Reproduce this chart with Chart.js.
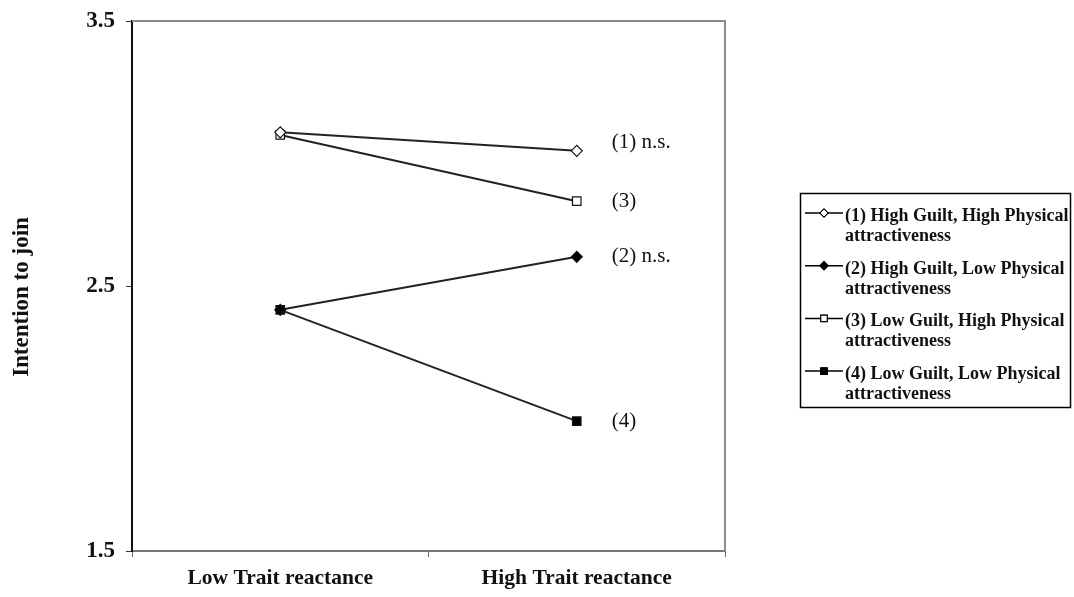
<!DOCTYPE html>
<html lang="en">
<head>
<meta charset="UTF-8">
<title>Intention to join</title>
<script src="https://cdn.jsdelivr.net/npm/chart.js"></script>
<style>
  html, body { margin: 0; padding: 0; background: #fff; }
  #wrap { position: relative; width: 1074px; height: 597px; }
</style>
</head>
<body>
<div id="wrap"><canvas id="chart" width="1074" height="597"></canvas></div>
<script>
// categories and tick labels
const categories = ['Low Trait reactance', 'High Trait reactance'];
const yTicks = [1.5, 2.5, 3.5];
const yTitle = 'Intention to join';

// series values
const highGuiltHighAttr = [3.08, 3.01];
const highGuiltLowAttr = [2.41, 2.61];
const lowGuiltHighAttr = [3.07, 2.82];
const lowGuiltLowAttr = [2.41, 1.99];

const seriesNames = [
  ['(1) High Guilt, High Physical', 'attractiveness'],
  ['(2) High Guilt, Low Physical', 'attractiveness'],
  ['(3) Low Guilt, High Physical', 'attractiveness'],
  ['(4) Low Guilt, Low Physical', 'attractiveness']
];
const endLabels = ['(1) n.s.', '(2) n.s.', '(3)', '(4)'];

const serif = '"Liberation Serif", "Times New Roman", serif';
const lineColor = '#222';

function makeSet(data, i, style, filled) {
  return {
    label: seriesNames[i].join(' '),
    data: data,
    borderColor: lineColor,
    borderWidth: 2,
    pointStyle: style,
    pointRadius: style === 'rect' ? 6 : 5.5,
    pointBorderWidth: 1.2,
    pointBorderColor: '#111',
    pointBackgroundColor: filled ? '#000' : '#fff',
    tension: 0
  };
}

const datasets = [
  makeSet(highGuiltHighAttr, 0, 'rectRot', false),
  makeSet(highGuiltLowAttr, 1, 'rectRot', true),
  makeSet(lowGuiltHighAttr, 2, 'rect', false),
  makeSet(lowGuiltLowAttr, 3, 'rect', true)
];

// frame (top and right), y title, labels next to last points, legend box
const extras = {
  id: 'extras',
  afterDraw(chart) {
    const ctx = chart.ctx;
    const a = chart.chartArea;
    ctx.save();
    ctx.strokeStyle = '#8c8c8c';
    ctx.lineWidth = 2;
    ctx.beginPath();
    ctx.moveTo(a.left, a.top);
    ctx.lineTo(a.right, a.top);
    ctx.lineTo(a.right, a.bottom);
    ctx.stroke();

    // y title, sits a little below the axis middle like the original
    ctx.save();
    ctx.translate(22, (a.top + a.bottom) / 2 + 11);
    ctx.rotate(-Math.PI / 2);
    ctx.fillStyle = '#111';
    ctx.font = 'bold 23px ' + serif;
    ctx.textAlign = 'center';
    ctx.textBaseline = 'middle';
    ctx.fillText(yTitle, 0, 0);
    ctx.restore();

    // end labels
    ctx.fillStyle = '#111';
    ctx.font = '21px ' + serif;
    ctx.textBaseline = 'middle';
    ctx.textAlign = 'left';
    chart.data.datasets.forEach((ds, i) => {
      const meta = chart.getDatasetMeta(i);
      const pt = meta.data[meta.data.length - 1];
      const dy = i === 0 ? -8 : 0;
      ctx.fillText(endLabels[i], pt.x + 35, pt.y + dy);
    });

    // legend
    const lx = 800, ly = 193, lw = 270, lh = 214;
    ctx.strokeStyle = '#000';
    ctx.lineWidth = 1.5;
    ctx.strokeRect(lx + 0.5, ly + 0.5, lw, lh);
    ctx.font = 'bold 18px ' + serif;
    ctx.textBaseline = 'alphabetic';
    chart.data.datasets.forEach((ds, i) => {
      const y = ly + 20 + i * 52.7;
      ctx.strokeStyle = '#000';
      ctx.lineWidth = 1.5;
      ctx.beginPath();
      ctx.moveTo(lx + 5, y);
      ctx.lineTo(lx + 43, y);
      ctx.stroke();
      Chart.helpers.drawPoint(ctx, {
        pointStyle: ds.pointStyle,
        radius: ds.pointStyle === 'rect' ? 4.5 : 4,
        borderWidth: 1
      }, lx + 24, y);
      ctx.fillStyle = ds.pointBackgroundColor;
      ctx.fill();
      ctx.strokeStyle = '#000';
      ctx.lineWidth = 1;
      ctx.stroke();
      ctx.fillStyle = '#111';
      ctx.fillText(seriesNames[i][0], lx + 45, y + 8);
      ctx.fillText(seriesNames[i][1], lx + 45, y + 28);
    });
    ctx.restore();
  }
};

new Chart(document.getElementById('chart'), {
  type: 'line',
  data: { labels: categories, datasets: datasets },
  plugins: [extras],
  options: {
    responsive: false,
    animation: false,
    layout: { padding: { top: 21, right: 349, bottom: 0, left: 0 } },
    plugins: { legend: { display: false }, tooltip: { enabled: false } },
    scales: {
      x: {
        offset: true,
        grid: {
          offset: true,
          drawOnChartArea: false,
          drawTicks: true,
          tickLength: 6,
          color: '#666'
        },
        border: { color: '#777', width: 2 },
        ticks: {
          padding: 9,
          color: '#111',
          font: { family: serif, size: 21.5, weight: 'bold' }
        },
        afterFit(scale) {
          scale.height = 46;
          scale.paddingLeft = 0;
          scale.paddingRight = 0;
        }
      },
      y: {
        min: 1.5,
        max: 3.5,
        afterBuildTicks(scale) { scale.ticks = yTicks.map(v => ({ value: v })); },
        grid: {
          drawOnChartArea: false,
          drawTicks: true,
          tickLength: 6,
          color: '#333'
        },
        border: { color: '#111', width: 2 },
        ticks: {
          padding: 11,
          color: '#111',
          font: { family: serif, size: 23, weight: 'bold' },
          callback: v => v.toFixed(1)
        },
        afterFit(scale) {
          scale.width = 132;
          scale.paddingTop = 0;
          scale.paddingBottom = 0;
        }
      }
    }
  }
});
</script>
</body>
</html>
